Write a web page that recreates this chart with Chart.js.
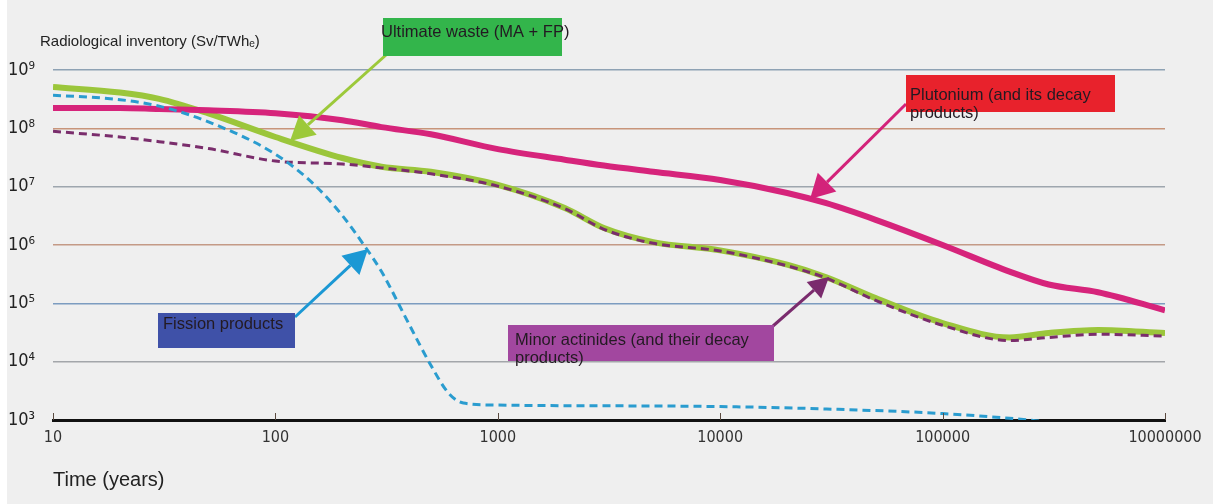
<!doctype html>
<html lang="en">
  <head>
    <meta charset="utf-8">
    <title>Radiological inventory</title>
    <script src="https://cdn.jsdelivr.net/npm/chart.js"></script>
    <style>
      body { margin: 0; background: #ffffff; }
    </style>
  </head>
  <body>
    <canvas id="inventoryChart" width="1213" height="504"></canvas>

    <script>
  // data (Sv/TWhe against years)
  const timeYears = [10, 20, 30, 50, 100, 200, 300, 500, 1000, 2000, 3000, 5000,
                     10000, 20000, 30000, 50000, 100000, 200000, 300000, 500000, 1000000];

  const plutonium = [2.24e8, 2.24e8, 2.14e8, 2.04e8, 1.82e8, 1.38e8, 1.05e8, 7.9e7, 4.4e7, 2.9e7, 2.3e7, 1.8e7,
                     1.3e7, 7.8e6, 5.2e6, 2.7e6, 1.0e6, 3.5e5, 2.1e5, 1.55e5, 7.6e4];

  const ultimateWaste = [5.1e8, 4.1e8, 3.2e8, 1.8e8, 7.1e7, 3.1e7, 2.2e7, 1.8e7, 1.07e7, 4.3e6, 1.95e6, 1.12e6,
                         8.1e5, 4.6e5, 2.8e5, 1.23e5, 4.6e4, 2.6e4, 3.1e4, 3.5e4, 3.1e4];

  const minorActinides = [8.9e7, 7.1e7, 5.9e7, 4.5e7, 2.75e7, 2.45e7, 2.1e7, 1.66e7, 1.02e7, 4.2e6, 1.86e6, 1.07e6,
                          7.9e5, 4.4e5, 2.7e5, 1.12e5, 4.2e4, 2.3e4, 2.6e4, 2.95e4, 2.75e4];

  const fissionYears = [10, 20, 30, 50, 100, 150, 200, 250, 300, 400, 500, 600, 700, 1000,
                        10000, 50000, 100000, 200000, 300000];
  const fissionProducts = [3.7e8, 3.1e8, 2.4e8, 1.29e8, 3.6e7, 1.07e7, 3.2e6, 1.0e6, 3.5e5, 4.3e4, 8.7e3, 2.9e3, 1.95e3, 1.8e3,
                           1.7e3, 1.45e3, 1.29e3, 1.07e3, 9.3e2];

  const xTickValues = [10, 100, 1000, 10000, 100000, 1000000];
  const xTickLabels = ['10', '100', '1000', '10000', '100000', '10000000'];
  const yTickValues = [1e3, 1e4, 1e5, 1e6, 1e7, 1e8, 1e9];
  const supers = { 3: '\u00B3', 4: '\u2074', 5: '\u2075', 6: '\u2076', 7: '\u2077', 8: '\u2078', 9: '\u2079' };

  // gridline colours, bottom to top
  const yGridColors = ['rgba(0,0,0,0)', '#a3a6aa', '#7c9cc0', '#c49a86', '#9ea6ae', '#c8957a', '#8ea2b4'];

  function toPoints(xs, ys) {
    return xs.map((x, i) => ({ x: x, y: ys[i] }));
  }

  // labels with arrows (pixel positions)
  const callouts = [
    { text: ['Ultimate waste (MA + FP)'], box: [383, 18, 179, 38], fill: '#33b54b', tx: 381, ty: 32,
      arrow: [386, 55, 290, 141], arrowColor: '#9cc93a', head: 24 },
    { text: ['Plutonium (and its decay', 'products)'], box: [906, 75, 209, 37], fill: '#e8222c', tx: 910, ty: 95,
      arrow: [906, 104, 810, 199], arrowColor: '#d3237a', head: 24 },
    { text: ['Fission products'], box: [158, 313, 137, 35], fill: '#3f51a8', tx: 163, ty: 324,
      arrow: [295, 317, 368, 249], arrowColor: '#1b98d4', head: 24 },
    { text: ['Minor actinides (and their decay', 'products)'], box: [508, 325, 266, 36], fill: '#a2479f', tx: 515, ty: 340,
      arrow: [773, 326, 829, 277], arrowColor: '#7a2b6d', head: 20 }
  ];

  const backgroundPlugin = {
    id: 'background',
    beforeDraw(chart) {
      const c = chart.ctx;
      c.save();
      c.fillStyle = '#efefef';
      c.fillRect(7, 0, chart.width - 7, chart.height);
      c.restore();
    }
  };

  function drawArrow(c, a, color, head) {
    const [x1, y1, x2, y2] = a;
    const ang = Math.atan2(y2 - y1, x2 - x1);
    const bx = x2 - Math.cos(ang) * head;
    const by = y2 - Math.sin(ang) * head;
    c.strokeStyle = color;
    c.lineWidth = 3;
    c.beginPath();
    c.moveTo(x1, y1);
    c.lineTo(bx, by);
    c.stroke();
    const w = head * 0.55;
    c.fillStyle = color;
    c.beginPath();
    c.moveTo(x2, y2);
    c.lineTo(bx + Math.sin(ang) * w, by - Math.cos(ang) * w);
    c.lineTo(bx - Math.sin(ang) * w, by + Math.cos(ang) * w);
    c.closePath();
    c.fill();
  }

  const calloutPlugin = {
    id: 'callouts',
    afterDatasetsDraw(chart) {
      const c = chart.ctx;
      const xs = chart.scales.x;
      const area = chart.chartArea;
      c.save();
      // small tick marks standing on the axis
      c.strokeStyle = '#5a4a40';
      c.lineWidth = 1;
      xTickValues.forEach(v => {
        const px = Math.round(xs.getPixelForValue(v)) + 0.5;
        c.beginPath();
        c.moveTo(px, area.bottom);
        c.lineTo(px, area.bottom - 7);
        c.stroke();
      });

      // y axis title
      c.fillStyle = '#222';
      c.textBaseline = 'middle';
      c.textAlign = 'left';
      c.font = '15px "Liberation Sans", Arial, sans-serif';
      c.fillText('Radiological inventory (Sv/TWh\u2091)', 40, 42);

      callouts.forEach(co => {
        drawArrow(c, co.arrow, co.arrowColor, co.head);
        c.fillStyle = co.fill;
        c.fillRect(co.box[0], co.box[1], co.box[2], co.box[3]);
        c.fillStyle = '#231a22';
        c.font = '16.5px "Liberation Sans", Arial, sans-serif';
        c.textBaseline = 'middle';
        co.text.forEach((t, i) => c.fillText(t, co.tx, co.ty + i * 18));
      });
      c.restore();
    }
  };

  const ctx = document.getElementById('inventoryChart').getContext('2d');

  const chart = new Chart(ctx, {
    type: 'line',
    data: {
      datasets: [
        {
          label: 'Fission products',
          data: toPoints(fissionYears, fissionProducts),
          borderColor: '#2a9ccf',
          borderWidth: 3,
          borderDash: [8, 5],
          pointRadius: 0,
          cubicInterpolationMode: 'monotone',
          order: 1
        },
        {
          label: 'Minor actinides',
          data: toPoints(timeYears, minorActinides),
          borderColor: '#7a2d6c',
          borderWidth: 3,
          borderDash: [8, 5],
          pointRadius: 0,
          cubicInterpolationMode: 'monotone',
          order: 2
        },
        {
          label: 'Plutonium',
          data: toPoints(timeYears, plutonium),
          borderColor: '#d6247b',
          borderWidth: 6,
          pointRadius: 0,
          cubicInterpolationMode: 'monotone',
          order: 3
        },
        {
          label: 'Ultimate waste',
          data: toPoints(timeYears, ultimateWaste),
          borderColor: '#9bc63b',
          borderWidth: 6,
          pointRadius: 0,
          cubicInterpolationMode: 'monotone',
          order: 4
        }
      ]
    },
    options: {
      responsive: false,
      animation: false,
      devicePixelRatio: 1,
      layout: { padding: { top: 70, right: 48, left: 0, bottom: 0 } },
      plugins: {
        legend: { display: false },
        tooltip: { enabled: false }
      },
      scales: {
        x: {
          type: 'logarithmic',
          min: 10,
          max: 1000000,
          afterBuildTicks: s => { s.ticks = xTickValues.map(v => ({ value: v })); },
          afterFit: s => { s.height = 84; },
          grid: { display: false, drawTicks: false },
          border: { display: true, color: '#111', width: 3 },
          ticks: {
            autoSkip: false,
            maxRotation: 0,
            padding: 8,
            color: '#333',
            font: { family: '"DejaVu Sans Condensed", "Liberation Sans Narrow", sans-serif', size: 16 },
            callback: (v, i) => xTickLabels[i]
          },
          title: {
            display: true,
            text: 'Time (years)',
            align: 'start',
            color: '#222',
            font: { family: '"Liberation Sans", Arial, sans-serif', size: 20 },
            padding: { top: 4, bottom: 12 }
          }
        },
        y: {
          type: 'logarithmic',
          min: 1000,
          max: 1e9,
          afterBuildTicks: s => { s.ticks = yTickValues.map(v => ({ value: v })); },
          afterFit: s => { s.width = 53; },
          grid: {
            drawTicks: false,
            lineWidth: 1.5,
            color: c => yGridColors[c.index]
          },
          border: { display: false },
          ticks: {
            padding: 18,
            color: '#222',
            font: { family: '"DejaVu Sans Condensed", "Liberation Sans Narrow", sans-serif', size: 18 },
            callback: v => '10' + supers[Math.round(Math.log10(v))]
          }
        }
      }
    },
    plugins: [backgroundPlugin, calloutPlugin]
  });
    </script>
  </body>
</html>
